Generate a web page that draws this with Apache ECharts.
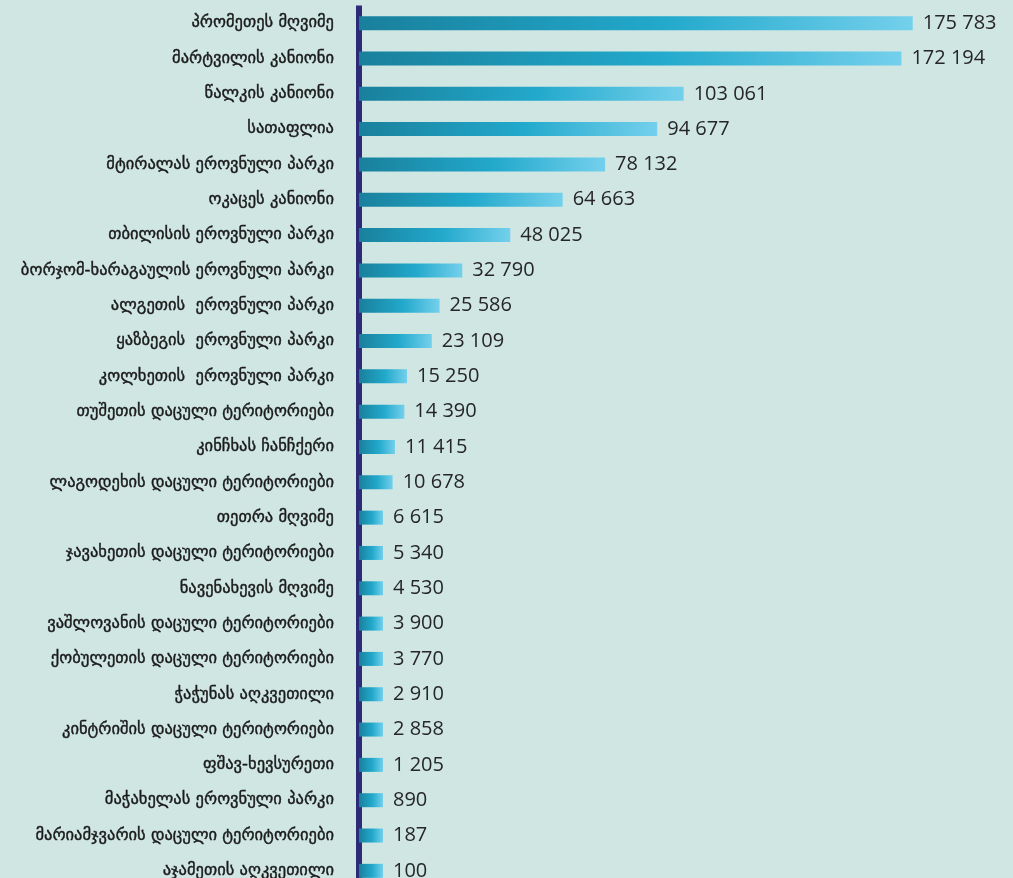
<!DOCTYPE html>
<html>
<head>
<meta charset="utf-8">
<script src="https://cdn.jsdelivr.net/npm/echarts@6/dist/echarts.min.js"></script>
<style>
  html, body { margin: 0; padding: 0; background: #cfe6e3; overflow: hidden; }
  #chart { width: 1013px; height: 890px; }
</style>
</head>
<body>
<div id="chart"></div>
<script>
// Protected areas and natural sites, visitors count
const sites = [
  'პრომეთეს მღვიმე',
  'მარტვილის კანიონი',
  'წალკის კანიონი',
  'სათაფლია',
  'მტირალას ეროვნული პარკი',
  'ოკაცეს კანიონი',
  'თბილისის ეროვნული პარკი',
  'ბორჯომ-ხარაგაულის ეროვნული პარკი',
  'ალგეთის  ეროვნული პარკი',
  'ყაზბეგის  ეროვნული პარკი',
  'კოლხეთის  ეროვნული პარკი',
  'თუშეთის დაცული ტერიტორიები',
  'კინჩხას ჩანჩქერი',
  'ლაგოდეხის დაცული ტერიტორიები',
  'თეთრა მღვიმე',
  'ჯავახეთის დაცული ტერიტორიები',
  'ნავენახევის მღვიმე',
  'ვაშლოვანის დაცული ტერიტორიები',
  'ქობულეთის დაცული ტერიტორიები',
  'ჭაჭუნას აღკვეთილი',
  'კინტრიშის დაცული ტერიტორიები',
  'ფშავ-ხევსურეთი',
  'მაჭახელას ეროვნული პარკი',
  'მარიამჯვარის დაცული ტერიტორიები',
  'აჯამეთის აღკვეთილი'
];

const visitors = [
  175783, 172194, 103061, 94677, 78132, 64663, 48025, 32790, 25586, 23109,
  15250, 14390, 11415, 10678, 6615, 5340, 4530, 3900, 3770, 2910,
  2858, 1205, 890, 187, 100
];

function spaced(n) {
  return String(n).replace(/\B(?=(\d{3})+(?!\d))/g, ' ');
}

const chart = echarts.init(document.getElementById('chart'));

chart.setOption({
  backgroundColor: '#cfe6e3',
  animation: false,
  grid: { left: 359, right: 24, top: 5.5, height: 883, containLabel: false },
  xAxis: {
    type: 'value',
    min: 0,
    max: 200000,
    show: false
  },
  yAxis: {
    type: 'category',
    data: sites,
    inverse: true,
    offset: 4,
    axisLine: { show: true, lineStyle: { color: '#2d2a77', width: 6, cap: 'butt' } },
    axisTick: { show: false },
    axisLabel: {
      margin: 21,
      color: '#1a1a1a',
      fontFamily: 'DejaVu Sans',
      fontSize: 16.5,
      textBorderColor: '#1a1a1a',
      textBorderWidth: 0.4
    },
    splitLine: { show: false }
  },
  series: [{
    type: 'bar',
    data: visitors,
    barWidth: 14,
    barMinHeight: 24,
    itemStyle: {
      color: new echarts.graphic.LinearGradient(0, 0, 1, 0, [
        { offset: 0, color: '#19809c' },
        { offset: 0.55, color: '#22a9cc' },
        { offset: 1, color: '#74d0ec' }
      ])
    },
    label: {
      show: true,
      position: 'right',
      distance: 10,
      color: '#262626',
      fontFamily: 'Open Sans',
      fontSize: 20,
      formatter: p => spaced(p.value)
    }
  }]
});
</script>
</body>
</html>
